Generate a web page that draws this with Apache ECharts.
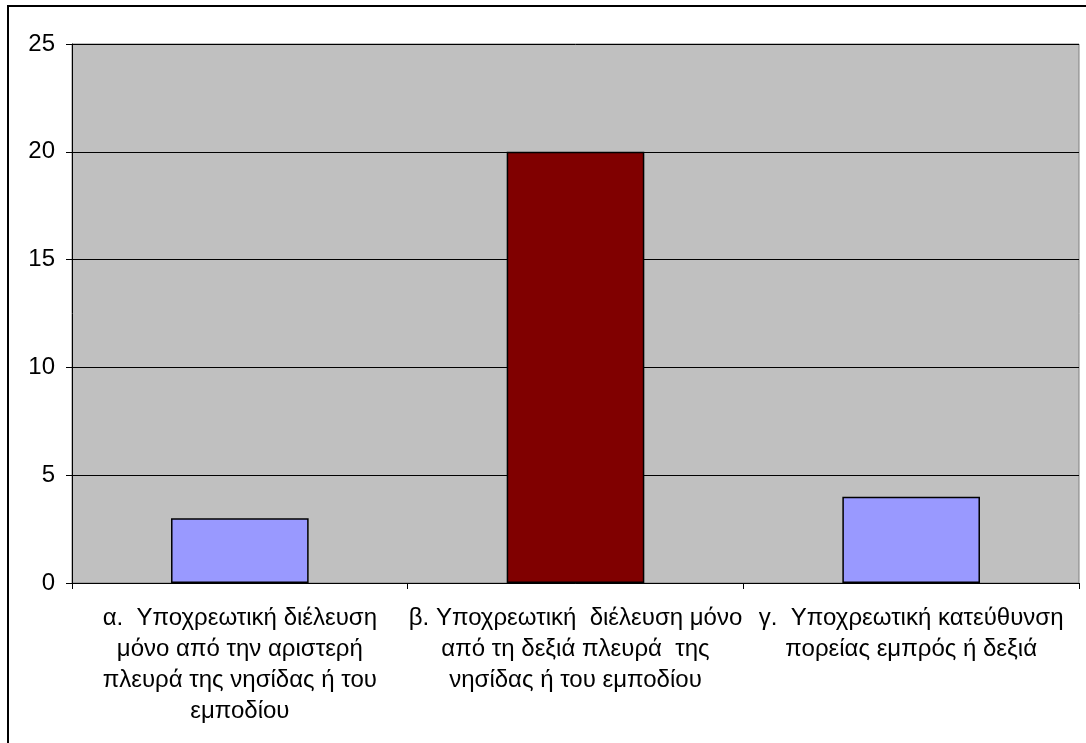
<!DOCTYPE html>
<html>
<head>
<meta charset="utf-8">
<script src="https://cdn.jsdelivr.net/npm/echarts@6/dist/echarts.min.js"></script>
<style>
  html, body { margin: 0; padding: 0; background: #fff; }
  #chart-container { width: 1086px; height: 743px; }
</style>
</head>
<body>
<div id="chart-container"></div>
<script>
// κατηγορίες (με τις αλλαγές γραμμής όπως στο πρωτότυπο)
const categories = [
  "α.  Υποχρεωτική διέλευση\nμόνο από την αριστερή\nπλευρά της νησίδας ή του\nεμποδίου",
  "β. Υποχρεωτική  διέλευση μόνο\nαπό τη δεξιά πλευρά  της\nνησίδας ή του εμποδίου",
  "γ.  Υποχρεωτική κατεύθυνση\nπορείας εμπρός ή δεξιά"
];
const values = [3, 20, 4];
const barColors = ["#9999FF", "#800000", "#9999FF"];
const yTicks = [0, 5, 10, 15, 20, 25];

const chart = echarts.init(document.getElementById("chart-container"));

const option = {
  backgroundColor: "#fff",
  animation: false,
  textStyle: { fontFamily: "Arial, 'Liberation Sans', sans-serif" },
  grid: {
    left: 72,
    right: 7,
    top: 44,
    bottom: 160,
    show: true,
    backgroundColor: "#C0C0C0",
    borderColor: "#808080",
    borderWidth: 1,
  },
  xAxis: {
    type: "category",
    data: categories,
    axisLine: { lineStyle: { color: "#000", width: 1 } },
    axisTick: { show: true, length: 6, alignWithLabel: false, lineStyle: { color: "#000" } },
    axisLabel: {
      interval: 0,
      color: "#000",
      fontSize: 24,
      lineHeight: 31,
      margin: 20,
      align: "center",
    },
  },
  yAxis: {
    type: "value",
    min: yTicks[0],
    max: yTicks[yTicks.length - 1],
    interval: 5,
    axisLine: { show: true, lineStyle: { color: "#000", width: 1 } },
    axisTick: { show: true, length: 6, lineStyle: { color: "#000" } },
    axisLabel: { color: "#000", fontSize: 24, margin: 17 },
    splitLine: { show: true, lineStyle: { color: "#000", width: 1 } },
  },
  series: [
    {
      type: "bar",
      data: values.map((v, i) => ({ value: v, itemStyle: { color: barColors[i] } })),
      barCategoryGap: "59%",
      itemStyle: { borderColor: "#000", borderWidth: 1.5 },
    },
  ],
  graphic: [
    {
      type: "polyline",
      shape: { points: [[8, 743], [8, 6], [1086, 6]] },
      style: { stroke: "#000", lineWidth: 2, fill: null },
      silent: true,
    },
  ],
};

chart.setOption(option);
</script>
</body>
</html>
